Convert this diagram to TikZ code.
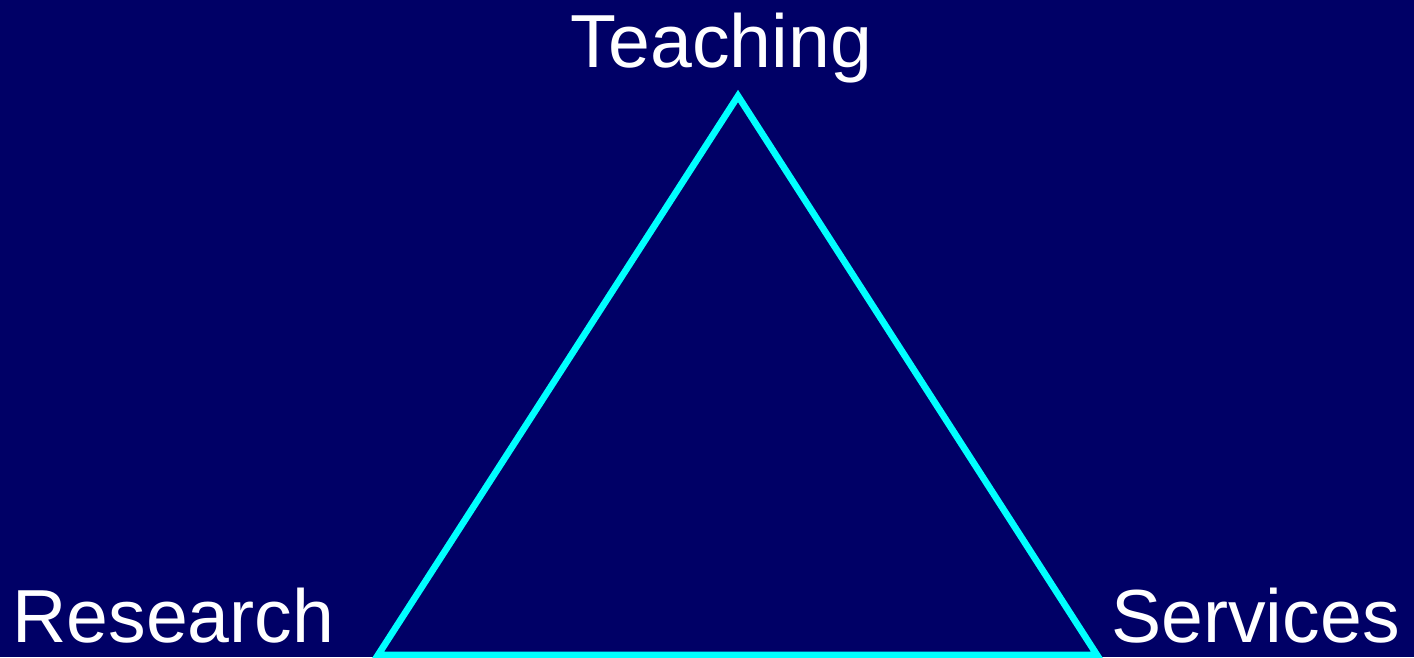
\documentclass[tikz,border=0pt]{standalone}
\usepackage{fontspec}
\setmainfont{Liberation Sans}
\usetikzlibrary{positioning}
\definecolor{navyback}{RGB}{0,0,102}
\definecolor{cyanline}{RGB}{0,255,255}

\begin{document}
\begin{tikzpicture}[
    x=0.02cm, y=-0.02cm,
    lbl/.style={text=white, inner sep=0pt, font=\fontsize{42.8}{50}\selectfont},
    triline/.style={draw=cyanline, line width=3.8pt}
]

    % Fond
    \useasboundingbox (0,0) rectangle (1414,657);
    \fill[navyback] (0,0) rectangle (1414,657);

    % Sommets du triangle
    \coordinate (apex) at (738,96);
    \coordinate (left) at (378,655);
    \coordinate (right) at (1097,655);

    \draw[triline] (left) -- (apex) -- (right) -- cycle;

    % Etiquettes
    \node[lbl, anchor=base] (teach) at (721.5,67) {Teaching};
    \node[lbl, anchor=base west] (research) at (12,642) {Research};
    \node[lbl, anchor=base east] (services) at (1400,642) {Services};

\end{tikzpicture}
\end{document}
